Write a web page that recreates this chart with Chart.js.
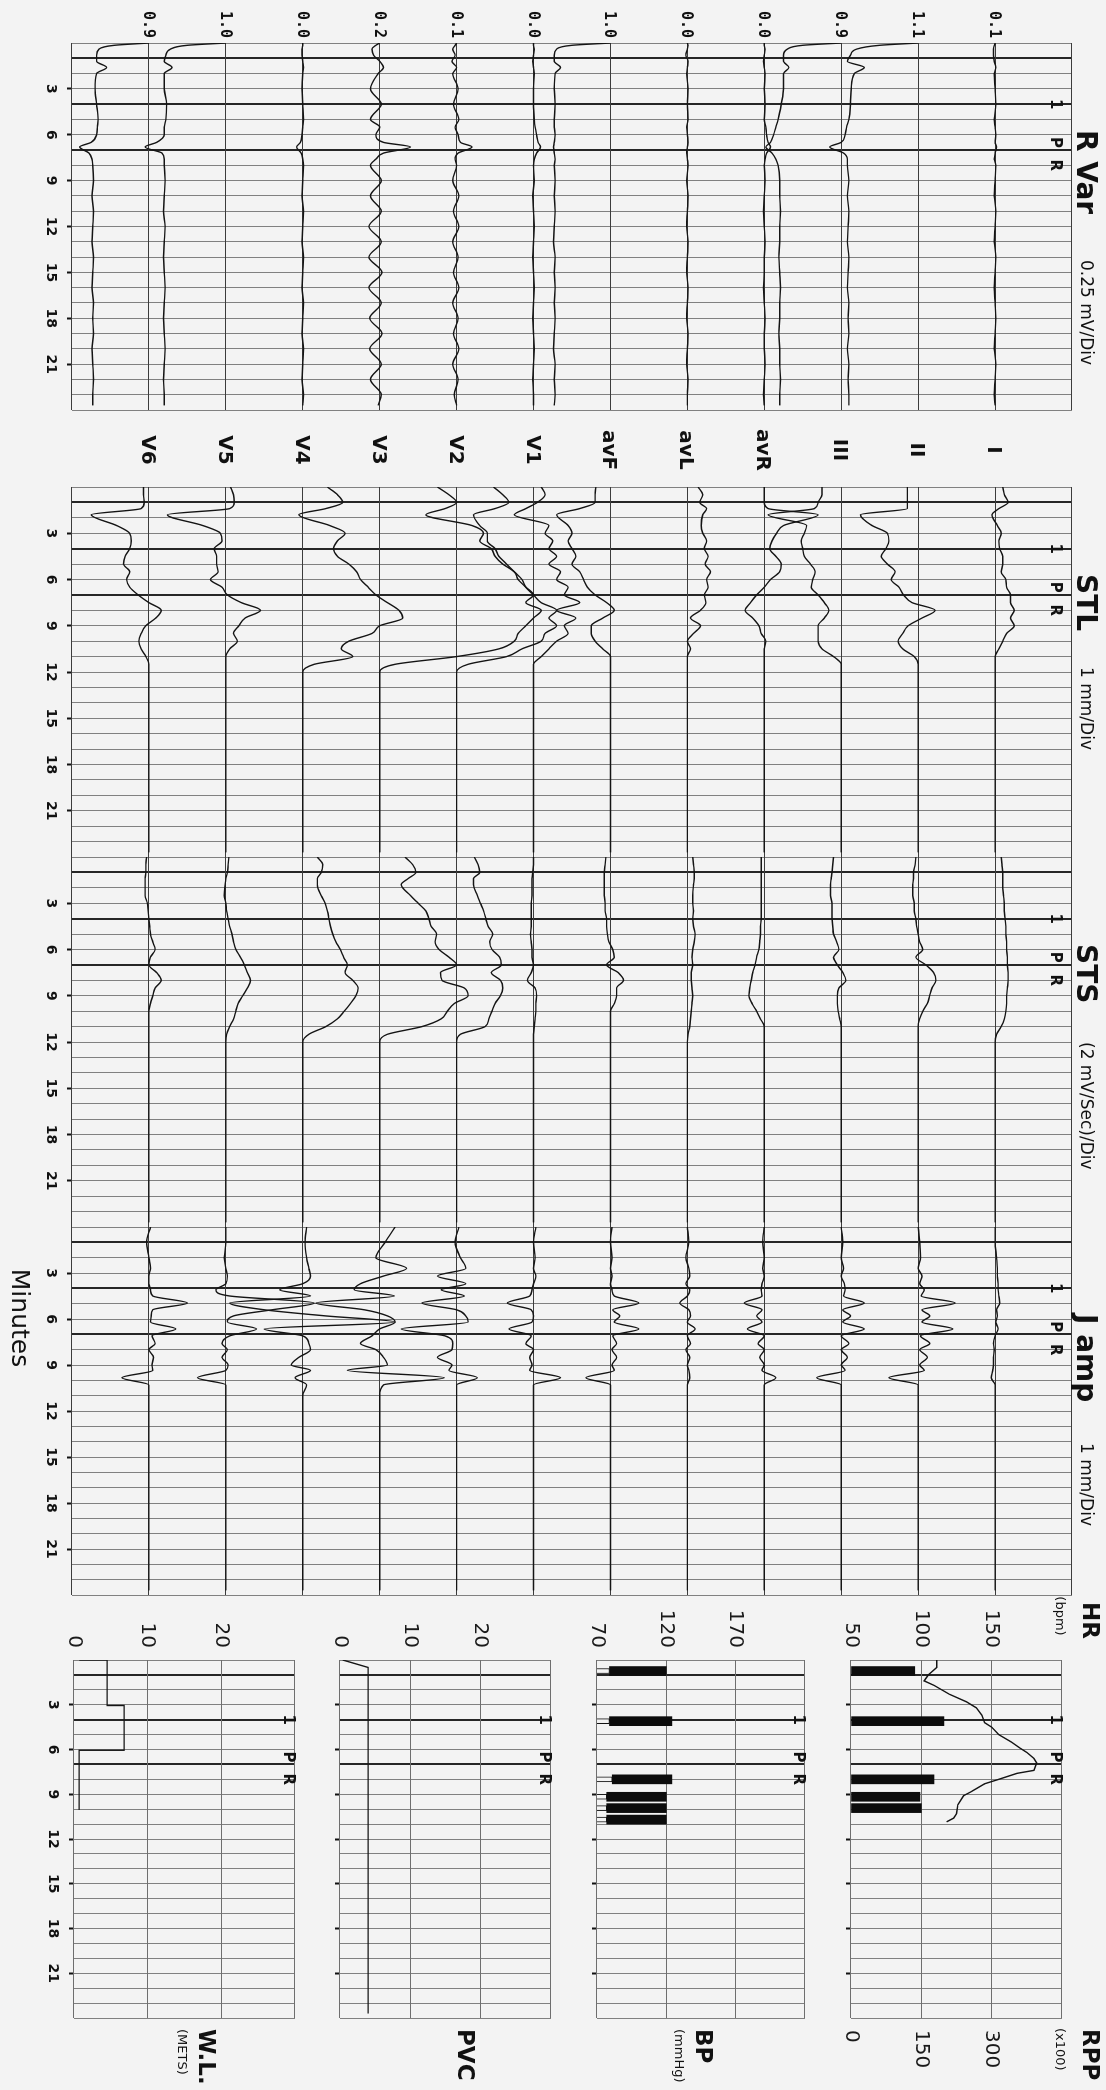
<!DOCTYPE html>
<html>
<head>
<meta charset="utf-8">
<title>Exercise test trends</title>
<script src="https://cdn.jsdelivr.net/npm/chart.js@4.4.1/dist/chart.umd.min.js"></script>
<style>
  html, body { margin: 0; padding: 0; background: #f3f3f3; overflow: hidden; }
  #page {
    position: absolute; left: 0; top: 0; width: 2090px; height: 1106px;
    transform-origin: 0 0; transform: translateX(1106px) rotate(90deg);
    background: #f3f3f3; font-family: 'DejaVu Sans', sans-serif; color: #111;
  }
  #page canvas { position: absolute; }
  .t { position: absolute; white-space: nowrap; line-height: 1; }
</style>
</head>
<body>
<div id="page"></div>
<script>
// leads, top to bottom of each trend panel
const LEADS = ['I', 'II', 'III', 'avR', 'avL', 'avF', 'V1', 'V2', 'V3', 'V4', 'V5', 'V6'];
const RVAR_START = ['0.1', '1.1', '0.9', '0.0', '0.0', '1.0', '0.0', '0.1', '0.2', '0.0', '1.0', '0.9'];

// R Var trend (deviation from each lead's line, in divisions)
const RVAR_MIN = [0, 0.15, 0.4, 0.8, 1.2, 1.6, 2, 3, 4, 5, 5.5, 6, 6.5, 6.8, 7.2, 7.6, 8, 9, 10, 11, 12, 13, 14, 15, 16, 17, 18, 19, 20, 21, 22, 23, 23.7];
const RVAR = [
  [0, -0.01, -0.02, -0.02, -0.01, 0.01, -0.01, 0, 0.01, -0.01, 0, 0.01, 0, 0.02, 0, -0.01, 0.01, 0, -0.01, 0.01, 0, -0.01, 0.01, 0, -0.01, 0, 0.01, 0, -0.01, 0.01, 0, -0.01, 0],
  [0, -0.50, -0.80, -0.88, -0.92, -0.70, -0.83, -0.87, -0.88, -0.90, -0.93, -0.95, -1.00, -1.15, -0.97, -0.92, -0.92, -0.90, -0.92, -0.90, -0.91, -0.92, -0.90, -0.91, -0.92, -0.90, -0.91, -0.90, -0.92, -0.90, -0.91, -0.90, -0.90],
  [0, -0.50, -0.70, -0.75, -0.75, -0.68, -0.75, -0.75, -0.78, -0.82, -0.85, -0.88, -0.92, -0.98, -0.90, -0.85, -0.82, -0.80, -0.80, -0.79, -0.80, -0.80, -0.81, -0.80, -0.79, -0.80, -0.80, -0.81, -0.80, -0.80, -0.79, -0.80, -0.80],
  [0, 0, 0.01, 0, -0.01, 0, 0.01, 0, 0.01, 0, 0.02, 0.03, 0.05, 0.08, 0.03, 0.01, 0, 0.01, 0, -0.01, 0, 0.01, 0, 0, -0.01, 0, 0.01, 0, 0, 0.01, 0, -0.01, 0],
  [0, 0.01, 0, -0.02, 0.01, 0, -0.01, 0.01, 0, 0.01, -0.01, 0, 0.01, 0, -0.01, 0, 0.01, -0.01, 0.01, 0, -0.01, 0.01, 0, -0.01, 0.01, 0, -0.01, 0.01, 0, -0.01, 0.01, 0, 0],
  [0, -0.50, -0.70, -0.73, -0.73, -0.65, -0.72, -0.73, -0.72, -0.73, -0.73, -0.72, -0.73, -0.74, -0.73, -0.72, -0.73, -0.72, -0.73, -0.72, -0.73, -0.74, -0.72, -0.73, -0.72, -0.73, -0.72, -0.73, -0.74, -0.72, -0.73, -0.72, -0.73],
  [0, 0, 0.01, 0, -0.01, 0, 0.01, 0, 0, 0.01, 0.02, 0.04, 0.06, 0.09, 0.04, 0.01, 0, 0.01, -0.01, 0, 0.01, 0, -0.01, 0, 0.01, 0, -0.01, 0, 0.01, 0, -0.01, 0, 0],
  [0, -0.02, -0.05, -0.02, -0.06, 0, -0.05, 0.02, -0.04, 0.03, -0.02, 0.02, 0.05, 0.20, 0.02, -0.02, 0, -0.05, 0.03, -0.04, 0.03, -0.05, 0.02, -0.04, 0.03, -0.05, 0.02, -0.04, 0.03, -0.05, 0.02, -0.03, 0],
  [0, -0.05, -0.10, -0.08, 0, 0.05, -0.02, -0.12, 0.02, -0.12, 0, -0.05, 0.05, 0.40, 0.05, -0.05, -0.12, 0.02, -0.12, 0.02, -0.14, 0.02, -0.14, 0.03, -0.14, 0.02, -0.13, 0.03, -0.13, 0.02, -0.12, 0.02, -0.02],
  [0, 0, -0.01, -0.01, 0, 0.01, 0, -0.01, 0, 0.01, 0, -0.01, -0.03, -0.08, -0.02, 0, 0.01, 0, -0.01, 0.01, 0, -0.01, 0.01, 0, -0.01, 0.01, 0, -0.01, 0.01, 0, -0.01, 0.01, 0],
  [0, -0.50, -0.72, -0.78, -0.80, -0.70, -0.80, -0.80, -0.77, -0.78, -0.80, -0.80, -0.90, -1.05, -0.83, -0.80, -0.80, -0.79, -0.80, -0.81, -0.79, -0.80, -0.81, -0.80, -0.79, -0.80, -0.81, -0.80, -0.79, -0.80, -0.81, -0.80, -0.80],
  [0, -0.45, -0.65, -0.68, -0.68, -0.55, -0.68, -0.70, -0.68, -0.66, -0.67, -0.68, -0.75, -0.90, -0.78, -0.74, -0.73, -0.72, -0.74, -0.72, -0.73, -0.74, -0.72, -0.73, -0.74, -0.72, -0.73, -0.72, -0.74, -0.73, -0.72, -0.73, -0.73]
];

// STL and STS trends share one set of sample minutes
const ST_MIN = [0, 0.5, 1, 1.4, 1.8, 2.5, 3, 3.5, 4, 4.5, 5, 5.5, 6, 6.5, 7, 7.5, 8, 8.5, 9, 9.5, 10, 10.5, 11, 11.5, 12, 23.7];
const STL = [
  [0.10, 0.12, 0.17, 0.05, -0.04, 0.03, 0.08, 0.05, 0.06, 0.10, 0.10, 0.08, 0.14, 0.15, 0.20, 0.20, 0.25, 0.20, 0.25, 0.15, 0.10, 0.05, 0, 0, 0, 0],
  [-0.14, -0.14, -0.14, -0.14, -0.75, -0.60, -0.40, -0.38, -0.42, -0.48, -0.40, -0.30, -0.35, -0.25, -0.19, -0.08, 0.22, 0.05, -0.13, -0.20, -0.26, -0.20, -0.05, 0, 0, 0],
  [-0.25, -0.25, -0.30, -0.35, -0.95, -0.45, -0.48, -0.52, -0.50, -0.48, -0.40, -0.34, -0.37, -0.39, -0.30, -0.22, -0.16, -0.22, -0.30, -0.30, -0.30, -0.25, -0.10, 0, 0, 0],
  [0, 0, 0, 0.05, 0.70, 0.25, 0.16, 0.10, 0.07, 0.15, 0.22, 0.20, 0.08, 0, -0.10, -0.18, -0.25, -0.15, -0.07, -0.04, 0.02, 0, 0, 0, 0, 0],
  [0.14, 0.20, 0.16, 0.25, 0.20, 0.18, 0.20, 0.25, 0.22, 0.27, 0.23, 0.30, 0.25, 0.27, 0.22, 0.24, 0.17, 0.04, 0.17, 0.08, 0, 0.04, 0, 0, 0, 0],
  [-0.19, -0.20, -0.20, -0.40, -0.70, -0.55, -0.50, -0.55, -0.50, -0.45, -0.50, -0.40, -0.35, -0.30, -0.20, -0.05, 0.05, -0.10, -0.25, -0.25, -0.20, -0.10, 0, 0, 0, 0],
  [0.10, 0.15, 0.05, -0.10, -0.25, 0.20, 0.15, 0.25, 0.20, 0.30, 0.20, 0.35, 0.30, 0.45, 0.40, 0.60, 0.30, 0.55, 0.40, 0.45, 0.30, 0.20, 0.10, 0, 0, 0],
  [0.48, 0.60, 0.68, 0.50, 0.22, 0.30, 0.40, 0.40, 0.50, 0.55, 0.65, 0.75, 0.85, 0.90, 1.00, 1.10, 1.30, 1.20, 1.30, 1.15, 1.10, 0.85, 0.65, 0.15, 0, 0],
  [0.75, 0.90, 1.00, 0.85, 0.60, 1.20, 1.35, 1.30, 1.45, 1.50, 1.60, 1.75, 1.80, 1.90, 2.00, 1.90, 2.10, 2.00, 1.90, 1.80, 1.75, 1.55, 1.00, 0.20, 0, 0],
  [0.32, 0.45, 0.52, 0.30, -0.05, 0.35, 0.55, 0.45, 0.40, 0.45, 0.60, 0.70, 0.75, 0.85, 0.95, 1.10, 1.25, 1.30, 1.00, 0.90, 0.60, 0.50, 0.65, 0.15, 0, 0],
  [0.06, 0.10, 0.11, 0.05, -0.76, -0.30, -0.07, -0.05, -0.15, -0.12, -0.12, -0.10, -0.20, -0.05, 0.02, 0.20, 0.45, 0.25, 0.17, 0.10, 0.15, 0.05, 0, 0, 0, 0],
  [-0.07, -0.07, -0.06, -0.10, -0.75, -0.42, -0.25, -0.23, -0.25, -0.31, -0.33, -0.25, -0.29, -0.25, -0.14, 0, 0.16, 0.09, -0.04, -0.10, -0.13, -0.10, -0.04, 0, 0, 0]
];
const STS = [
  [0.08, 0.09, 0.10, 0.10, 0.10, 0.11, 0.12, 0.12, 0.13, 0.14, 0.14, 0.15, 0.15, 0.16, 0.16, 0.17, 0.17, 0.16, 0.15, 0.15, 0.14, 0.12, 0.08, 0.02, 0, 0],
  [-0.03, -0.04, -0.06, -0.06, -0.07, -0.07, -0.05, -0.05, -0.03, -0.02, 0, 0.02, 0.06, -0.03, 0.10, 0.20, 0.23, 0.18, 0.15, 0.12, 0.06, 0.02, 0, 0, 0, 0],
  [-0.10, -0.11, -0.12, -0.13, -0.14, -0.14, -0.12, -0.12, -0.12, -0.11, -0.10, -0.06, -0.03, -0.10, -0.05, 0.02, 0.06, -0.03, -0.05, -0.05, -0.04, -0.02, 0, 0, 0, 0],
  [-0.04, -0.04, -0.04, -0.04, -0.04, -0.04, -0.04, -0.04, -0.04, -0.05, -0.05, -0.06, -0.07, -0.10, -0.12, -0.15, -0.17, -0.19, -0.20, -0.16, -0.10, -0.05, 0, 0, 0, 0],
  [0.07, 0.08, 0.09, 0.09, 0.08, 0.07, 0.07, 0.08, 0.07, 0.08, 0.10, 0.09, 0.07, 0.06, 0.07, 0.05, 0.05, 0.06, 0.07, 0.06, 0.05, 0.04, 0.03, 0.01, 0, 0],
  [-0.06, -0.07, -0.08, -0.08, -0.08, -0.08, -0.07, -0.07, -0.05, -0.05, -0.04, -0.02, 0.03, 0.05, -0.05, 0.10, 0.17, 0.08, 0.08, 0.05, 0, 0, 0, 0, 0, 0],
  [0, 0, -0.01, -0.02, -0.02, -0.02, -0.03, -0.03, -0.03, -0.03, -0.04, -0.03, -0.02, -0.02, 0, -0.03, -0.08, 0.02, 0.04, 0.03, 0.03, 0.02, 0.01, 0, 0, 0],
  [0.23, 0.28, 0.30, 0.22, 0.22, 0.27, 0.31, 0.35, 0.38, 0.41, 0.47, 0.43, 0.46, 0.56, 0.58, 0.45, 0.57, 0.60, 0.57, 0.50, 0.46, 0.42, 0.37, 0.05, 0, 0],
  [0.33, 0.43, 0.47, 0.37, 0.28, 0.40, 0.50, 0.60, 0.64, 0.67, 0.74, 0.72, 0.77, 0.90, 1.00, 0.79, 0.81, 1.10, 1.15, 0.97, 0.88, 0.80, 0.55, 0.10, 0, 0],
  [0.19, 0.26, 0.24, 0.19, 0.19, 0.24, 0.29, 0.32, 0.34, 0.36, 0.39, 0.43, 0.49, 0.53, 0.58, 0.55, 0.65, 0.72, 0.69, 0.62, 0.54, 0.45, 0.30, 0.08, 0, 0],
  [0.04, 0.03, 0.02, 0, -0.01, -0.02, 0, 0.01, 0.03, 0.05, 0.08, 0.10, 0.13, 0.19, 0.24, 0.28, 0.32, 0.28, 0.22, 0.16, 0.13, 0.10, 0.05, 0.01, 0, 0],
  [-0.03, -0.04, -0.04, -0.05, -0.05, -0.05, -0.02, -0.01, 0, 0.01, 0.02, 0.05, 0.08, 0.02, 0, 0.10, 0.16, 0.08, 0.05, 0.02, 0, 0, 0, 0, 0, 0]
];

// J amp trend
const JAMP_MIN = [0, 1, 2, 2.7, 3.2, 3.7, 4.1, 4.5, 4.96, 5.4, 5.8, 6.2, 6.65, 7.1, 7.6, 8, 8.5, 9, 9.35, 9.83, 10.3, 11, 23.7];
const JAMP = [
  [0, 0, 0.02, 0.03, 0.03, 0.04, 0.04, 0.05, 0.06, 0.02, 0.03, 0.01, 0.04, 0, -0.02, -0.01, -0.02, -0.02, -0.03, -0.05, 0, 0, 0],
  [0, 0.02, 0.03, 0, 0.05, 0.02, 0.08, 0.04, 0.48, 0.05, 0.15, 0.05, 0.45, 0.03, 0.15, 0.02, 0.12, 0.02, 0.08, -0.38, 0, 0, 0],
  [0, 0.02, 0, 0.03, 0, 0.04, 0.05, 0.03, 0.30, 0.02, 0.12, 0.02, 0.30, 0, 0.10, 0, 0.08, 0, 0.05, -0.32, 0, 0, 0],
  [0, -0.02, 0, -0.02, 0, -0.03, -0.04, -0.03, -0.26, -0.03, -0.10, -0.03, -0.22, 0, -0.08, 0, -0.06, 0, -0.03, 0.15, 0, 0, 0],
  [0, 0.02, -0.02, 0.02, 0.03, -0.02, 0.03, 0, -0.10, 0.02, 0.04, 0, 0.10, 0, 0.04, -0.02, 0.03, 0, 0.02, 0.03, 0, 0, 0],
  [0.02, 0, 0.02, 0, 0.02, 0, 0.02, 0.05, 0.37, 0.03, 0.12, 0.05, 0.37, 0.03, 0.08, 0.02, 0.08, 0.02, 0.05, -0.32, 0, 0, 0],
  [0.03, 0, 0.02, 0, 0.03, 0, -0.02, -0.05, -0.34, -0.03, 0, -0.02, -0.32, -0.03, -0.10, 0, -0.05, -0.02, -0.05, 0.35, 0, 0, 0],
  [0.03, -0.02, 0.05, 0.12, -0.25, 0.12, -0.20, 0.10, -0.45, 0, 0.12, 0.15, -0.72, -0.15, -0.05, -0.06, -0.25, -0.06, -0.10, 0.27, 0, 0, 0],
  [0.20, 0.07, -0.05, 0.35, 0.05, -0.25, -0.33, 0.19, -0.83, -0.20, 0.10, 0.20, 0, -0.10, -0.25, -0.05, 0.05, 0.10, -0.42, 0.84, 0.05, 0, 0],
  [0.05, 0.03, 0.05, 0.08, 0.10, 0, -0.30, 0.10, -0.95, -0.50, 0.30, 1.20, -0.50, 0, 0.08, 0.10, -0.05, -0.15, 0.10, -0.10, 0.05, 0, 0],
  [0, 0, -0.02, 0, 0.02, 0, -0.13, 0.05, 1.15, 0.60, 0.10, 0.02, 0.40, 0.05, -0.05, 0.02, -0.05, 0.03, 0, -0.37, 0, 0, 0],
  [0.02, -0.03, 0, 0.02, 0, 0, 0.02, 0.05, 0.50, 0.05, 0.03, 0.02, 0.35, 0.04, 0.08, 0, 0.06, 0.04, 0.05, -0.35, 0, 0, 0]
];

// heart rate, rate-pressure product, blood pressure, PVC count, workload
const HR_MIN = [0, 0.5, 1, 1.4, 1.7, 2.3, 2.8, 3.2, 3.7, 4.2, 4.5, 5, 5.5, 5.9, 6.2, 6.6, 6.9, 7.4, 7.6, 8, 8.3, 8.8, 9.1, 9.7, 10.3, 10.6, 10.85];
const HR_BPM = [111, 111, 105, 102, 109, 120, 132, 139, 143, 145, 150, 155, 164, 170, 175, 180, 182, 180, 168, 155, 145, 136, 130, 126, 125, 123, 118];
const RPP_MIN = [0.74, 4.1, 8.0, 9.17, 9.93];
const RPP = [136, 198, 177, 147, 150];
const BP_MIN = [0.74, 4.1, 8.0, 9.17, 9.93, 10.7];
const BP_SYS = [120, 124, 124, 120, 120, 120];
const BP_DIA = [79, 79, 81, 77, 77, 77];
const PVC_MIN = [0, 0.5, 23.7];
const PVC = [0.4, 4, 4];
const WL_MIN = [0, 3.05, 6.05, 7.1, 10.05];
const WL = [0.7, 4.5, 6.8, 0.7, 0.7];

const STAGE_LINES = [1, 4, 7];
const STAGE_MARKS = [['1', 4.0], ['P', 6.5], ['R', 8.0]];

Chart.defaults.font.family = "'DejaVu Sans', sans-serif";

const page = document.getElementById('page');
const PAGE_H = 1106;
const MAIN_TOP = 34;
const MAIN_BOTTOM = 1034;

const addText = (text, x, y, style, align = 'left') => {
  const el = document.createElement('div');
  el.className = 't';
  el.textContent = text;
  el.style.left = x + 'px';
  el.style.top = y + 'px';
  const dx = align === 'center' ? '-50%' : align === 'right' ? '-100%' : '0';
  el.style.transform = `translate(${dx}, -50%)`;
  Object.assign(el.style, style);
  page.appendChild(el);
};

const addCanvas = (left, top, width, height) => {
  const c = document.createElement('canvas');
  c.width = width;
  c.height = height;
  c.style.left = left + 'px';
  c.style.top = top + 'px';
  c.style.width = width + 'px';
  c.style.height = height + 'px';
  page.appendChild(c);
  return c;
};

const isLabelled = v => v % 3 === 0 && v > 0 && v < 24;
const isStage = ctx => ctx.tick && STAGE_LINES.includes(ctx.tick.value);

const minuteAxis = (withLabels, height) => ({
  type: 'linear', min: 0, max: 24, offset: false,
  afterFit: (s) => { s.height = height; },
  ticks: {
    stepSize: 1, autoSkip: false, maxRotation: 0, padding: 8, color: '#111',
    font: { size: 14, weight: 'bold' },
    callback: v => (withLabels && isLabelled(v)) ? String(v) : ''
  },
  grid: {
    offset: false,
    color: ctx => isStage(ctx) ? '#262626' : '#808080',
    lineWidth: ctx => isStage(ctx) ? 2 : 1,
    tickLength: 5, tickWidth: 2,
    tickColor: ctx => (ctx.tick && isLabelled(ctx.tick.value)) ? '#111' : 'rgba(0,0,0,0)'
  },
  border: { display: false }
});

const baseOptions = (padding) => ({
  responsive: false, animation: false, devicePixelRatio: 1, events: [],
  layout: { padding },
  plugins: { legend: { display: false }, tooltip: { enabled: false } }
});

const stageMarks = (x0, x1, y) => {
  STAGE_MARKS.forEach(([label, m]) => {
    addText(label, x0 + m * (x1 - x0) / 24, y, { font: 'bold 15px "DejaVu Sans"' }, 'center');
  });
};

// the four lead trend panels
const makeLeadPanel = (p) => {
  const width = p.x1 - p.x0 + 40;
  const canvas = addCanvas(p.x0 - 20, 0, width, PAGE_H);
  new Chart(canvas, {
    type: 'line',
    data: {
      datasets: LEADS.map((lead, i) => ({
        label: lead,
        data: p.minutes.map((m, k) => ({ x: m, y: 12 - i + p.rows[i][k] })),
        borderColor: '#141414', borderWidth: 1.4, pointRadius: 0,
        cubicInterpolationMode: 'monotone', fill: false
      }))
    },
    options: {
      ...baseOptions({ left: 20, right: 20, top: MAIN_TOP, bottom: 0 }),
      scales: {
        x: minuteAxis(true, PAGE_H - MAIN_BOTTOM),
        y: {
          type: 'linear', min: 0, max: 13,
          afterFit: (s) => { s.width = 0; },
          ticks: { display: false, stepSize: 1 },
          grid: { color: '#3c3c3c', lineWidth: 1, drawTicks: false },
          border: { display: false }
        }
      }
    }
  });
  addText(p.name, p.x0 + 87, 19, { font: 'bold 28px "DejaVu Sans"' });
  addText(p.unit, p.unitX, 19, { font: '17px "DejaVu Sans"' });
  stageMarks(p.x0, p.x1, 50);
};

[
  { name: 'R Var', unit: '0.25 mV/Div', x0: 43, x1: 410, unitX: 260, minutes: RVAR_MIN, rows: RVAR },
  { name: 'STL', unit: '1 mm/Div', x0: 487, x1: 857, unitX: 667, minutes: ST_MIN, rows: STL },
  { name: 'STS', unit: '(2 mV/Sec)/Div', x0: 857, x1: 1227, unitX: 1042, minutes: ST_MIN, rows: STS },
  { name: 'J amp', unit: '1 mm/Div', x0: 1227, x1: 1595, unitX: 1443, minutes: JAMP_MIN, rows: JAMP }
].forEach(makeLeadPanel);

const leadY = i => MAIN_TOP + (i + 1) * (MAIN_BOTTOM - MAIN_TOP) / 13;
LEADS.forEach((lead, i) => {
  addText(RVAR_START[i], 38, leadY(i), { font: 'bold 15px "DejaVu Sans Mono"' }, 'right');
  addText(lead, 450, leadY(i), { font: 'bold 20px "DejaVu Sans"' }, 'center');
});
addText('Minutes', 1318, 1085, { font: '25px "DejaVu Sans"' }, 'center');

// the four small panels at the end of the sheet
const BX0 = 1660, BX1 = 2018;
const makeSmallPanel = (cfg) => {
  const canvasTop = cfg.top - 14;
  const axisH = cfg.xLabels ? PAGE_H - cfg.bottom : 12;
  const height = cfg.bottom + axisH - canvasTop;
  const canvas = addCanvas(1580, canvasTop, 510, height);
  const scales = {
    x: minuteAxis(cfg.xLabels, axisH),
    y: {
      type: 'linear', position: 'left', min: cfg.min, max: cfg.max,
      afterFit: (s) => { s.width = BX0 - 1580; },
      ticks: { stepSize: cfg.step, padding: 12, color: '#1a1a1a', font: { size: 20 },
               callback: v => v < cfg.max ? String(v) : '' },
      grid: { color: '#6e6e6e', lineWidth: 1, drawTicks: false },
      border: { display: false }
    }
  };
  if (cfg.right) scales.rpp = cfg.right;
  new Chart(canvas, {
    type: 'line',
    data: { datasets: cfg.datasets },
    options: {
      ...baseOptions({ left: 0, right: cfg.right ? 0 : 2090 - BX1, top: 14, bottom: 0 }),
      scales
    }
  });
  stageMarks(BX0, BX1, cfg.top + 16);
};

const lineSet = (mins, vals, extra) => ({
  type: 'line',
  data: mins.map((m, k) => ({ x: m, y: vals[k] })),
  borderColor: '#141414', borderWidth: 1.4, pointRadius: 0, tension: 0, fill: false,
  ...extra
});

makeSmallPanel({
  top: 34, bottom: 267, min: 50, max: 200, step: 50, xLabels: false,
  datasets: [
    lineSet(HR_MIN, HR_BPM, { yAxisID: 'y' }),
    {
      type: 'bar', yAxisID: 'rpp', grouped: false, barThickness: 9,
      data: RPP_MIN.map((m, k) => ({ x: m, y: RPP[k] })),
      backgroundColor: '#0c0c0c', borderWidth: 0
    }
  ],
  right: {
    type: 'linear', position: 'right', min: 0, max: 450,
    afterFit: (s) => { s.width = 2090 - BX1; },
    ticks: { stepSize: 150, padding: 12, color: '#1a1a1a', font: { size: 20 },
             callback: v => v < 450 ? String(v) : '' },
    grid: { drawOnChartArea: false, drawTicks: false },
    border: { display: false }
  }
});

makeSmallPanel({
  top: 291, bottom: 521, min: 70, max: 220, step: 50, xLabels: false,
  datasets: [
    {
      type: 'bar', grouped: false, barThickness: 5,
      data: BP_MIN.map((m, k) => ({ x: m, y: [70, BP_DIA[k]] })),
      backgroundColor: '#f3f3f3', borderColor: '#111', borderWidth: 1
    },
    {
      type: 'bar', grouped: false, barThickness: 9,
      data: BP_MIN.map((m, k) => ({ x: m, y: [BP_DIA[k], BP_SYS[k]] })),
      backgroundColor: '#0c0c0c', borderWidth: 0
    }
  ]
});

makeSmallPanel({
  top: 545, bottom: 778, min: 0, max: 30, step: 10, xLabels: false,
  datasets: [lineSet(PVC_MIN, PVC, {})]
});

makeSmallPanel({
  top: 801, bottom: 1032, min: 0, max: 30, step: 10, xLabels: true,
  datasets: [lineSet(WL_MIN, WL, { stepped: 'after' })]
});

// titles of the small panels
const titleFont = { font: 'bold 23px "DejaVu Sans"' };
const unitFont = { font: '13px "DejaVu Sans"' };
addText('HR', 1602, 15, titleFont);
addText('(bpm)', 1616, 45, unitFont, 'center');
addText('RPP', 2029, 15, titleFont);
addText('(x100)', 2028, 45, unitFont);
addText('BP', 2029, 402, titleFont);
addText('(mmHg)', 2029, 426, unitFont);
addText('PVC', 2029, 640, titleFont);
addText('W.L.', 2029, 899, titleFont);
addText('(METS)', 2029, 923, unitFont);
</script>
</body>
</html>
